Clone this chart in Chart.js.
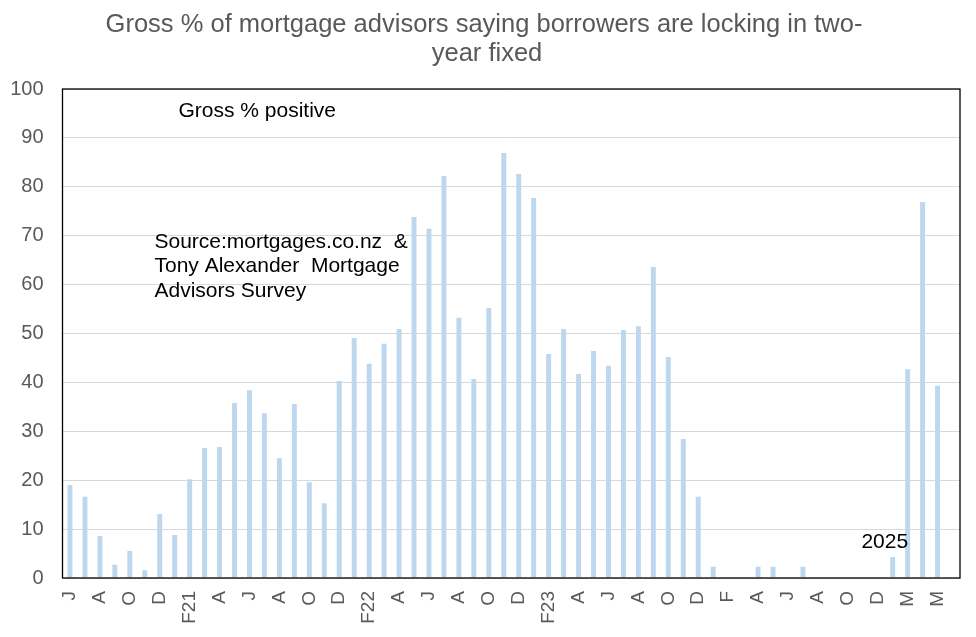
<!DOCTYPE html>
<html>
<head>
<meta charset="utf-8">
<script src="https://cdn.jsdelivr.net/npm/chart.js@4.4.1/dist/chart.umd.min.js"></script>
<style>
  html, body { margin: 0; padding: 0; background: #ffffff; }
  #wrap { width: 976px; height: 637px; }
</style>
</head>
<body>
<div id="wrap"><canvas id="c" width="976" height="637"></canvas></div>
<script>
// ---- Data ----
const titleLines = ["Gross % of mortgage advisors saying borrowers are locking in two-", "year fixed"];
const seriesName = "Gross % positive";
const sourceLines = ["Source:mortgages.co.nz  &", "Tony Alexander  Mortgage", "Advisors Survey"];
const yearNote = "2025";
// tick labels shown on every other bar
const tickLabels = ["J","A","O","D","F21","A","J","A","O","D","F22","A","J","A","O","D","F23","A","J","A","O","D","F","A","J","A","O","D","M","M"];
// monthly values (59 bars + one empty slot at the end)
const values = [
  19.0, 16.6, 8.6, 2.7, 5.5, 1.6, 13.1, 8.8, 20.2, 26.6,
  26.8, 35.8, 38.4, 33.7, 24.5, 35.6, 19.6, 15.3, 40.3, 49.1,
  43.8, 47.9, 50.9, 73.8, 71.4, 82.2, 53.2, 40.7, 55.2, 86.9,
  82.6, 77.7, 45.8, 50.9, 41.7, 46.4, 43.4, 50.7, 51.5, 63.6,
  45.2, 28.4, 16.6, 2.3, 0, 0, 2.3, 2.3, 0, 2.3,
  0, 0, 0, 0, 0, 4.3, 42.7, 76.9, 39.3, null
];
const categories = values.map((v, i) => (i % 2 === 0 && i / 2 < tickLabels.length ? tickLabels[i / 2] : ""));

const FONT = "'Liberation Sans', Arial, sans-serif";
const GREY = "#595959";

const overlay = {
  id: "overlay",
  afterDraw(chart) {
    const ctx = chart.ctx;
    const a = chart.chartArea;
    const xs = chart.scales.x, ys = chart.scales.y;
    ctx.save();
    // frame
    ctx.strokeStyle = "#000000";
    ctx.lineWidth = 1.3;
    ctx.strokeRect(a.left, a.top, a.right - a.left, a.bottom - a.top);
    // title
    ctx.fillStyle = GREY;
    ctx.font = "25.5px " + FONT;
    ctx.textAlign = "center";
    ctx.textBaseline = "middle";
    ctx.fillText(titleLines[0], 484, 25);
    ctx.fillText(titleLines[1], 487, 54);
    // series label
    ctx.fillStyle = "#000000";
    ctx.font = "21px " + FONT;
    ctx.textAlign = "left";
    ctx.fillText(seriesName, a.left + 116, a.top + 22);
    // source
    sourceLines.forEach((s, i) => ctx.fillText(s, a.left + 92, a.top + 153 + i * 24.5));
    // year note
    ctx.textAlign = "right";
    ctx.fillText(yearNote, xs.getPixelForValue(56) + 0.5, ys.getPixelForValue(7.4));
    ctx.restore();
  }
};

new Chart(document.getElementById("c"), {
  type: "bar",
  data: {
    labels: categories,
    datasets: [{
      label: seriesName,
      data: values,
      backgroundColor: "#BDD7EE",
      borderWidth: 0,
      barPercentage: 0.33,
      categoryPercentage: 1.0
    }]
  },
  options: {
    responsive: false,
    animation: false,
    layout: { padding: { top: 89, right: 16, left: 0, bottom: 0 } },
    plugins: {
      legend: { display: false },
      title: { display: false },
      tooltip: { enabled: false }
    },
    scales: {
      x: {
        afterFit(s) { s.height = 59; s.paddingRight = 0; s.paddingLeft = 0; },
        grid: { display: false, drawTicks: false },
        border: { display: false },
        ticks: {
          autoSkip: false,
          minRotation: 90,
          maxRotation: 90,
          padding: 13,
          color: GREY,
          font: { family: FONT, size: 19 },
          callback(v, i) { return categories[i]; }
        }
      },
      y: {
        min: 0,
        max: 100,
        afterFit(s) { s.width = 62.5; },
        grid: { color: "#d9d9d9", lineWidth: 1, drawTicks: false },
        border: { display: false },
        ticks: {
          stepSize: 10,
          padding: 19,
          color: GREY,
          font: { family: FONT, size: 20 }
        }
      }
    }
  },
  plugins: [overlay]
});
</script>
</body>
</html>
